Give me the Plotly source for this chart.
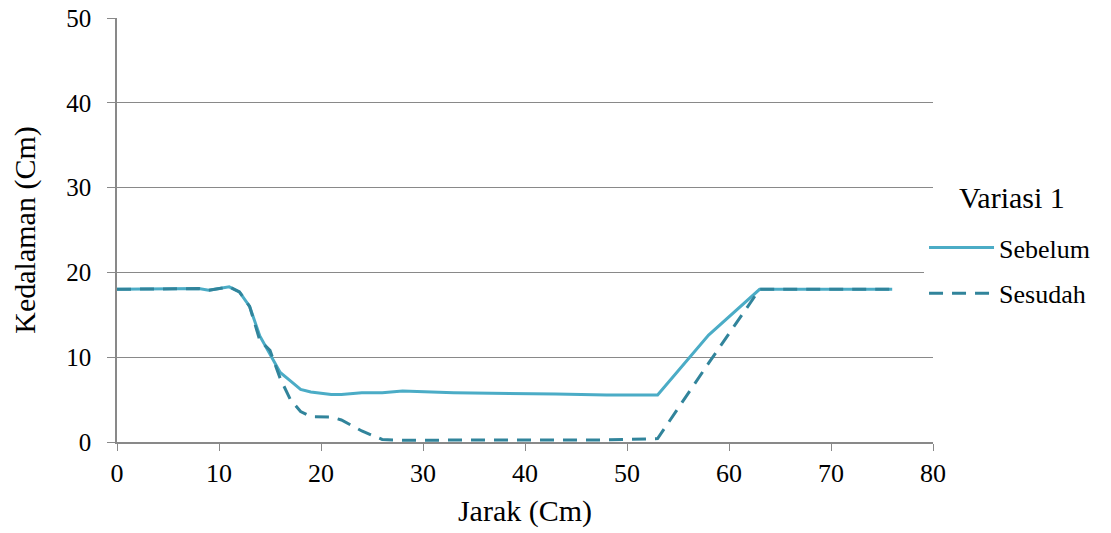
import plotly.graph_objects as go

x_sebelum = [0, 8, 9, 11, 12, 13, 14, 15, 16, 17, 18, 19, 21, 22, 24, 26, 28, 33, 38, 43, 48, 53, 58, 63, 76]
y_sebelum = [18, 18.1, 17.9, 18.3, 17.7, 16, 12.5, 10.3, 8.2, 7.2, 6.2, 5.9, 5.6, 5.6, 5.8, 5.8, 6.0, 5.8, 5.75, 5.65, 5.55, 5.55, 12.6, 18, 18]

x_sesudah = [0, 8, 9, 11, 12, 13, 14, 15, 16, 17, 18, 19, 21, 22, 24, 26, 28, 33, 38, 43, 48, 53, 58, 63, 76]
y_sesudah = [18, 18.1, 17.9, 18.3, 17.7, 16, 12.0, 10.8, 7.5, 5.0, 3.6, 3.0, 2.95, 2.6, 1.3, 0.3, 0.2, 0.25, 0.25, 0.25, 0.25, 0.4, 9.3, 18, 18]

x_ticks = [0, 10, 20, 30, 40, 50, 60, 70, 80]
y_ticks = [0, 10, 20, 30, 40, 50]

legend_title = "Variasi 1"

font_family = "Liberation Serif, Times New Roman, serif"

fig = go.Figure()
fig.add_trace(go.Scatter(x=x_sebelum, y=y_sebelum, mode="lines", name="Sebelum",
                         legendgroup="a",
                         line=dict(color="#4BACC6", width=3)))
fig.add_trace(go.Scatter(x=x_sesudah, y=y_sesudah, mode="lines", name="Sesudah",
                         legendgroup="b",
                         line=dict(color="#31849B", width=3, dash="14px,9px")))

# plot area (paper) spans x 117..933 px, y 18..442 px of the 1111x533 figure
fig.add_annotation(text=legend_title, xref="paper", yref="paper", x=1.0968, y=0.5755,
                   xanchor="center", yanchor="middle", showarrow=False,
                   font=dict(size=30, family=font_family, color="black"))

fig.update_layout(
    width=1111, height=533,
    margin=dict(l=117, r=178, t=18, b=91),
    paper_bgcolor="white", plot_bgcolor="white",
    font=dict(family=font_family, size=26, color="black"),
    xaxis=dict(range=[0, 80], tickvals=x_ticks, showgrid=False, zeroline=False,
               showline=True, linecolor="#898989", linewidth=1.5,
               ticks="outside", ticklen=7, tickcolor="#898989", automargin=False,
               ticklabeloverflow="allow",
               tickfont=dict(size=26),
               title=dict(text="Jarak (Cm)", font=dict(size=30), standoff=13)),
    yaxis=dict(range=[0, 50], tickvals=y_ticks, showgrid=True, gridcolor="#898989", gridwidth=1.2,
               zeroline=False, showline=True, linecolor="#898989", linewidth=1.5,
               ticks="outside", ticklen=8, tickcolor="#898989", automargin=False,
               ticklabeloverflow="allow", ticklabelstandoff=11,
               tickfont=dict(size=25),
               title=dict(text="Kedalaman (Cm)", font=dict(size=30), standoff=22)),
    legend=dict(x=0.989, xanchor="left", y=0.514, yanchor="top",
                itemwidth=65, font=dict(size=26),
                tracegroupgap=9),
)

fig.write_html("out.html", config={"displayModeBar": False},
               post_script="document.body.style.margin='0px';")
